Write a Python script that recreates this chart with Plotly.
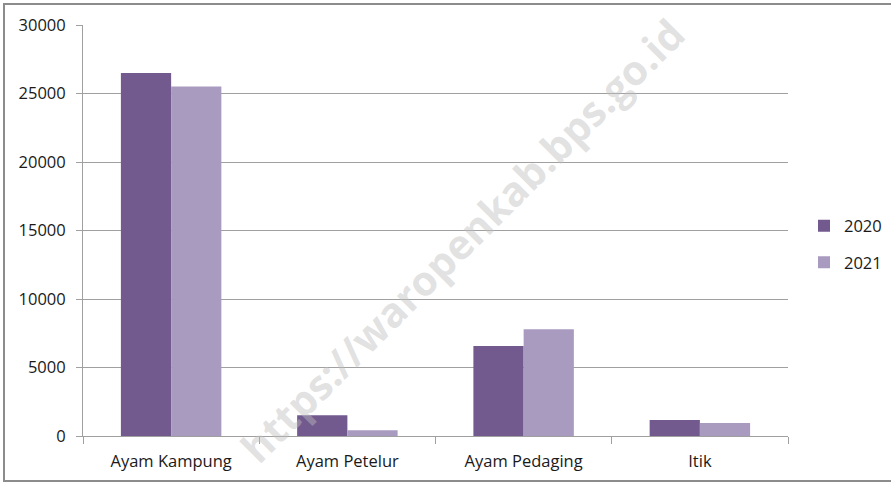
import plotly.graph_objects as go

categories = ["Ayam Kampung", "Ayam Petelur", "Ayam Pedaging", "Itik"]
values_2020 = [26500, 1510, 6570, 1170]
values_2021 = [25520, 420, 7790, 950]
series_names = ["2020", "2021"]
y_ticks = [0, 5000, 10000, 15000, 20000, 25000, 30000]
y_tick_labels = ["0", "5000", "10000", "15000", "20000", "25000", "30000"]

W, H = 891, 484
L, R, T, B = 83, 891 - 788, 25, 484 - 436
pw, ph = W - L - R, H - T - B

def px_x(p):
    return (p - L) / pw

def px_y(p):
    return (H - B - p) / ph

font = "Open Sans, Noto Sans, sans-serif"

fig = go.Figure()
fig.add_trace(go.Bar(x=categories, y=values_2020, name=series_names[0],
                     marker=dict(color="#725A8F", line=dict(width=0)), legendgroup="a"))
fig.add_trace(go.Bar(x=categories, y=values_2021, name=series_names[1],
                     marker=dict(color="#A99BBF", line=dict(width=0)), legendgroup="b"))

fig.update_layout(
    width=W, height=H,
    margin=dict(l=L, r=R, t=T, b=B, pad=0, autoexpand=False),
    paper_bgcolor="white", plot_bgcolor="white",
    barmode="group", bargap=0.43, bargroupgap=0,
    font=dict(family=font, size=16.5, color="#1a1a1a"),
    showlegend=True,
    legend=dict(x=px_x(804), y=px_y(244), xanchor="left", yanchor="middle",
                font=dict(size=16.5), traceorder="grouped", tracegroupgap=12,
                itemwidth=30, bgcolor="rgba(0,0,0,0)"),
    xaxis=dict(showline=True, linecolor="#A0A0A0", linewidth=1,
               ticks="outside", ticklen=7, tickcolor="#A0A0A0", tickson="boundaries",
               showgrid=False, ticklabelstandoff=10, fixedrange=True),
    yaxis=dict(range=[0, 30000], tickvals=y_ticks, ticktext=y_tick_labels,
               showline=True, linecolor="#A0A0A0",
               linewidth=1, ticks="outside", ticklen=6, tickcolor="#A0A0A0",
               showgrid=True, gridcolor="#A0A0A0", gridwidth=1, zeroline=False,
               ticklabelstandoff=7, fixedrange=True),
    shapes=[dict(type="rect", xref="paper", yref="paper",
                 x0=px_x(4), x1=px_x(900), y0=px_y(481), y1=px_y(4),
                 line=dict(color="#8C8C8C", width=2), fillcolor="rgba(0,0,0,0)", layer="below")],
    annotations=[dict(text="<b>https://waropenkab.bps.go.id</b>", xref="paper", yref="paper",
                      x=px_x(462), y=px_y(240), showarrow=False, textangle=-45,
                      font=dict(family=font, size=41, color="rgba(190,190,190,0.45)"))],
)

fig.write_html("out.html", config={"displayModeBar": False},
               post_script="document.body.style.margin='0';")
